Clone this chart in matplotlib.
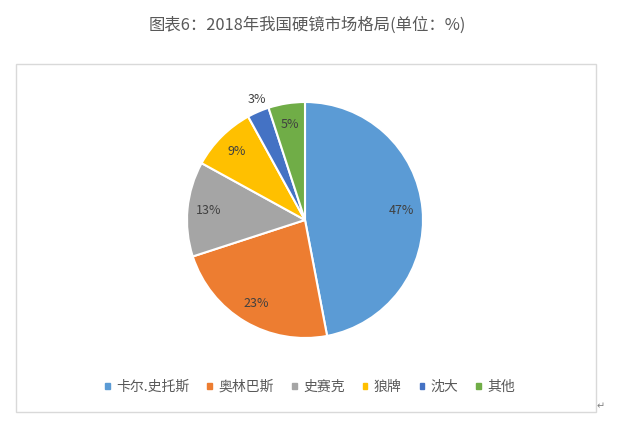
import matplotlib

matplotlib.use("Agg")
import matplotlib.pyplot as plt
from matplotlib.patches import Rectangle

plt.rcParams["font.family"] = ["Noto Sans CJK SC", "DejaVu Sans"]

title = "图表6：2018年我国硬镜市场格局(单位：%)"
brands = ["卡尔.史托斯", "奥林巴斯", "史赛克", "狼牌", "沈大", "其他"]
shares = [47, 23, 13, 9, 3, 5]
colors = ["#5B9BD5", "#ED7D31", "#A5A5A5", "#FFC000", "#4472C4", "#70AD47"]

W, H = 618, 426
fig = plt.figure(figsize=(W / 100, H / 100), dpi=100)

# light frame around the chart area
fig.patches.append(Rectangle((16 / W, 1 - 412 / H), 580 / W, 348 / H,
                             transform=fig.transFigure, fill=False,
                             edgecolor="#d9d9d9", lw=1))

fig.text(307 / W, 1 - 25 / H, title, ha="center", va="center",
         fontsize=11.8, color="#595959")

# pie: centre (305, 220) px, radius 118 px
r = 118
ax = fig.add_axes([(305 - r) / W, 1 - (220 + r) / H, 2 * r / W, 2 * r / H])
wedges, texts, autotexts = ax.pie(
    shares, colors=colors, startangle=90, counterclock=False,
    autopct=lambda p: f"{p:.0f}%", pctdistance=0.82,
    wedgeprops=dict(edgecolor="white", linewidth=1.5),
    textprops=dict(fontsize=9, color="#404040"))
# the small 3% slice gets its label just outside
autotexts[4].set_position((-0.41, 1.02))
ax.set_xlim(-1, 1)
ax.set_ylim(-1, 1)
ax.set_aspect("equal")

handles = [Rectangle((0, 0), 1, 1, color=c) for c in colors]
fig.legend(handles, brands, loc="center", bbox_to_anchor=(310 / W, 1 - 387 / H),
           ncol=len(brands), frameon=False, fontsize=10, labelcolor="#595959",
           handlelength=0.35, handleheight=0.35, handletextpad=0.45,
           columnspacing=1.3)

fig.text(601 / W, 1 - 406 / H, "↵", ha="center", va="center",
         fontsize=7, color="#808080", family=["DejaVu Sans"])

fig.savefig("out.png", dpi=100)
